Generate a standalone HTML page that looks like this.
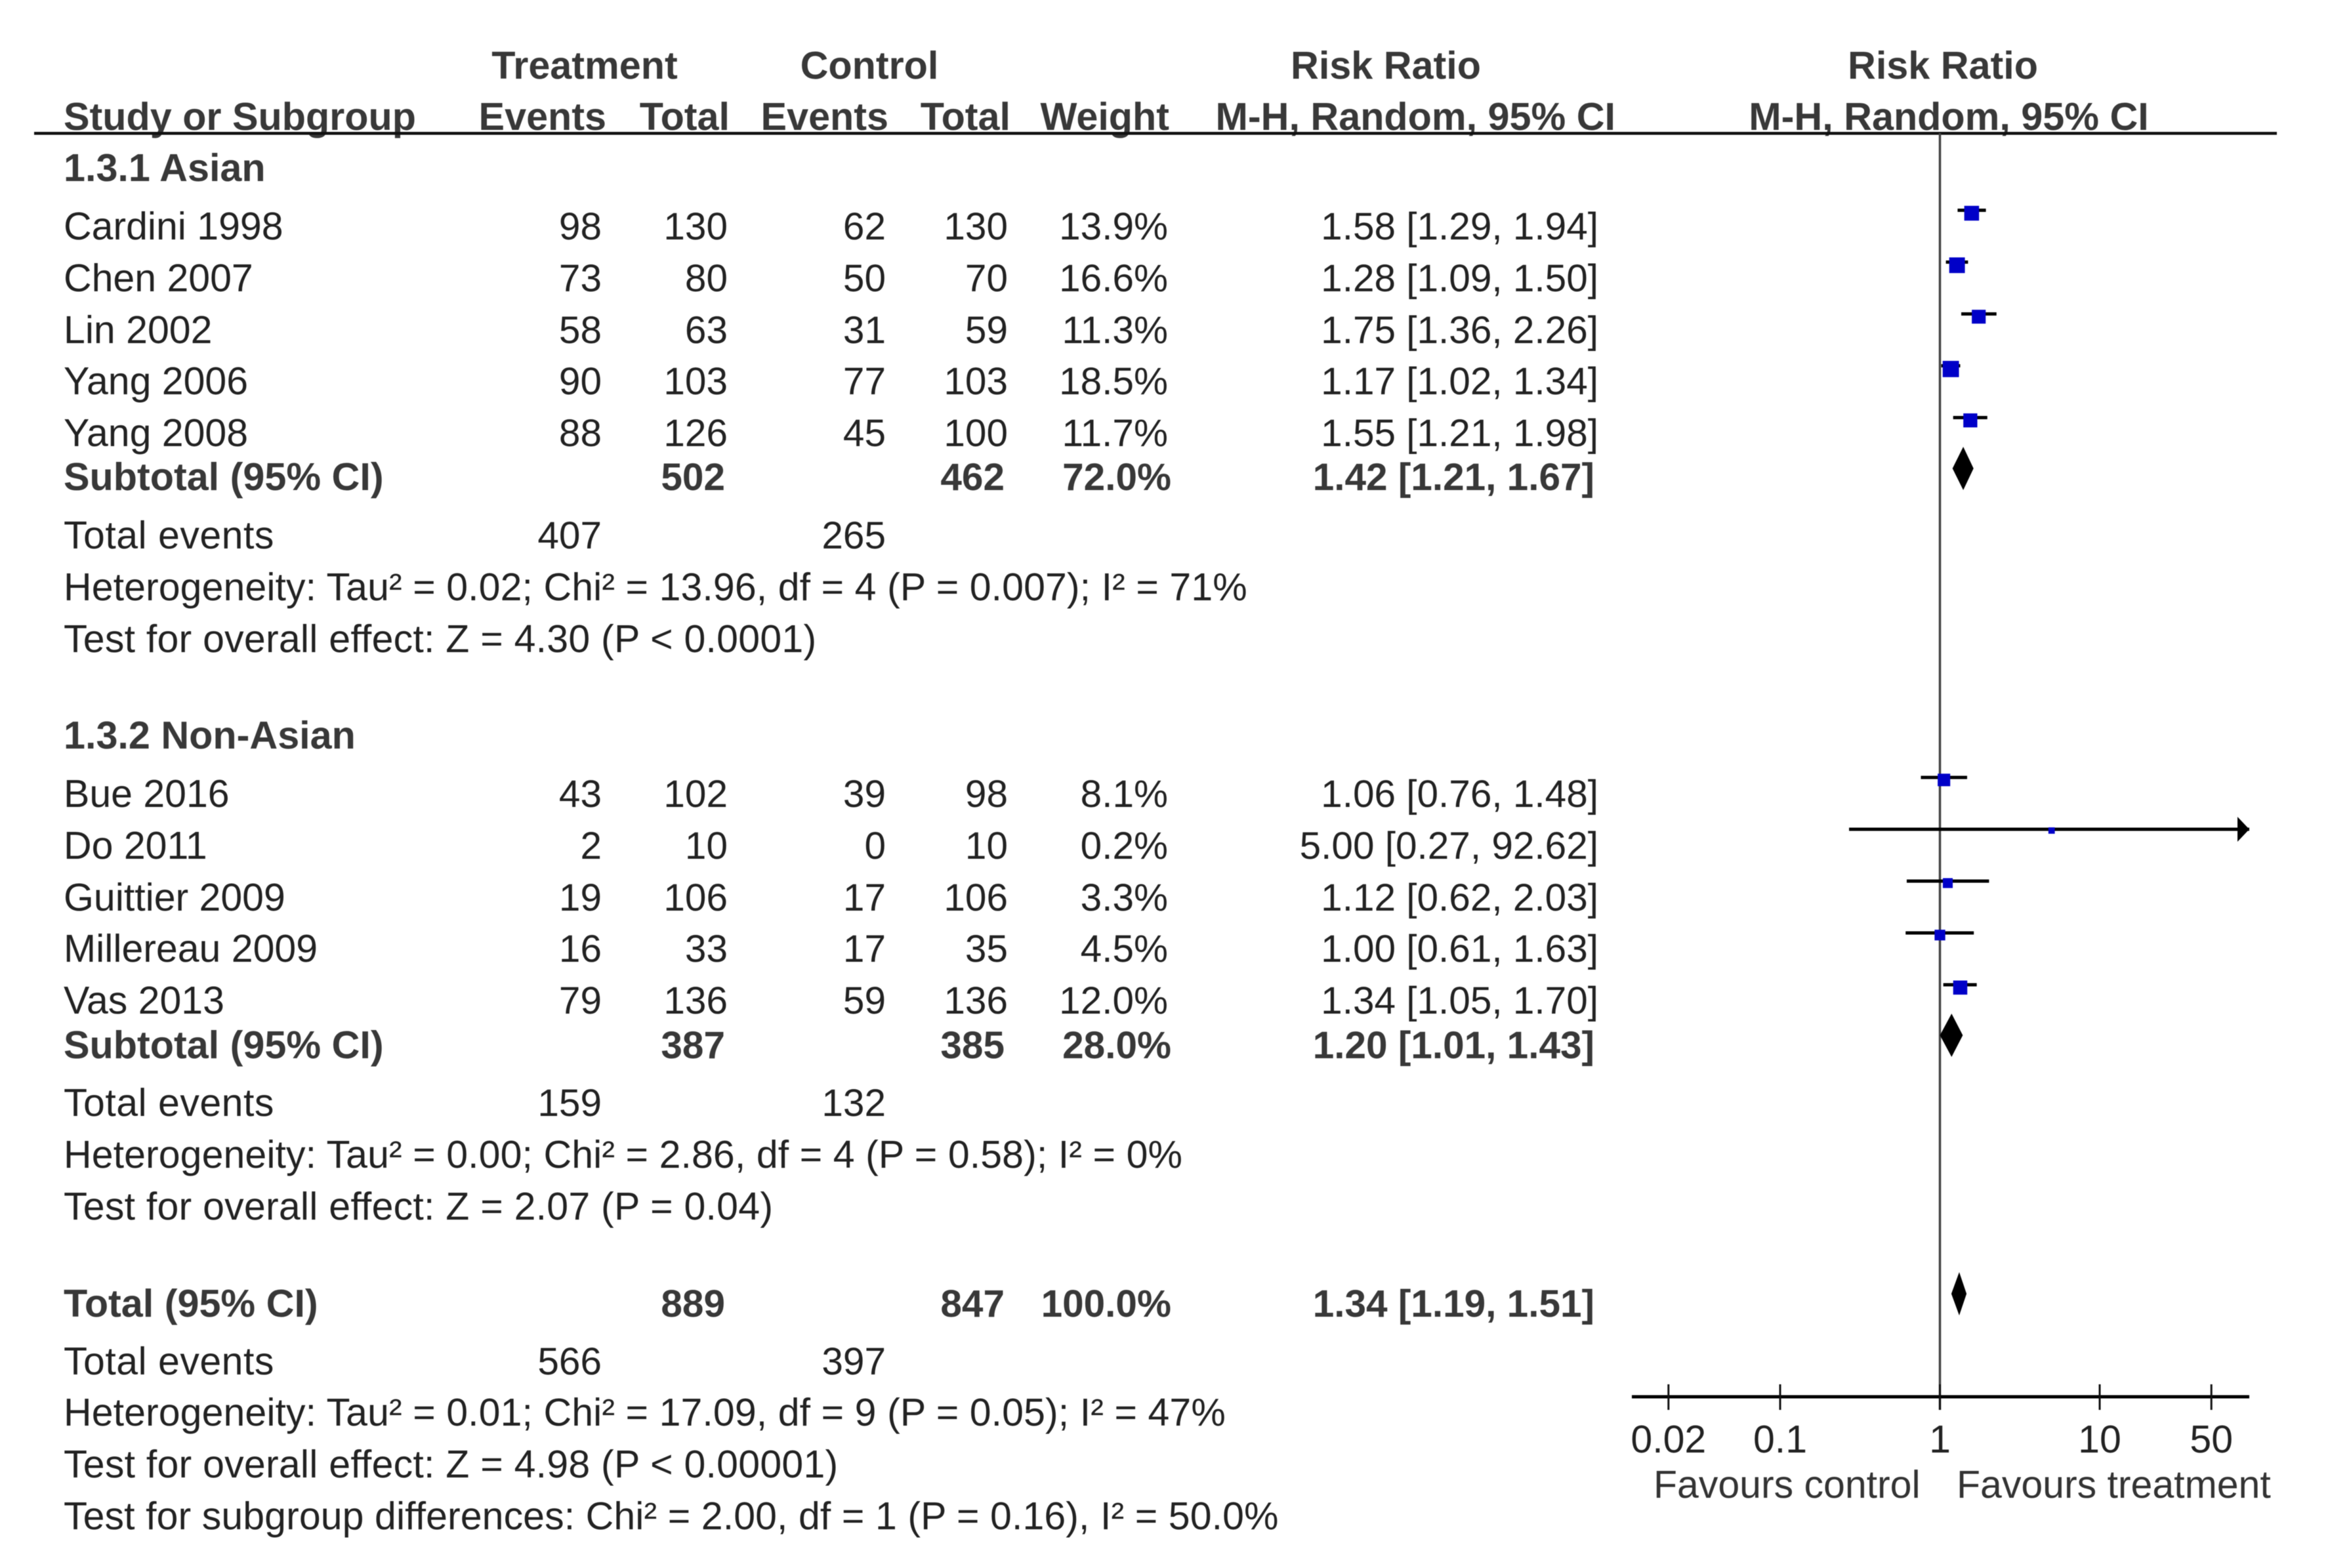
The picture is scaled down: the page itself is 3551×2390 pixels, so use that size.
<!DOCTYPE html>
<html lang="en">
<head>
<meta charset="utf-8">
<title>Forest plot: Risk Ratio by subgroup</title>
<style>
html,body{margin:0;padding:0;background:#fff;}
svg{display:block;filter:blur(0.6px);}
text{font-family:"Liberation Sans",sans-serif;font-size:59px;fill:#222;}
.e{text-anchor:end;font-size:58.5px;}
.m{text-anchor:middle;}
.b{font-weight:bold;fill:#383838;font-size:59.3px;}
.n{font-size:58.5px;}
.te{letter-spacing:0.5px;}
.t1{letter-spacing:0.25px;}
.t2{letter-spacing:0.1px;}
</style>
</head>
<body>
<svg id="forest" xmlns="http://www.w3.org/2000/svg" width="3551" height="2390" viewBox="0 0 3551 2390">
<rect x="0" y="0" width="3551" height="2390" fill="#fff"/>

<g>
<text class="b m" x="891" y="120">Treatment</text>
<text class="b m" x="1325" y="120">Control</text>
<text class="b m" x="2112" y="120">Risk Ratio</text>
<text class="b m" x="2961" y="120">Risk Ratio</text>
<text class="b" x="97" y="198">Study or Subgroup</text>
<text class="b e" x="924" y="198">Events</text>
<text class="b e" x="1112" y="198">Total</text>
<text class="b e" x="1354" y="198">Events</text>
<text class="b e" x="1540" y="198">Total</text>
<text class="b e" x="1782" y="198">Weight</text>
<text class="b e" x="2462" y="198">M-H, Random, 95% CI</text>
<text class="b m" x="2970" y="198">M-H, Random, 95% CI</text>
<rect x="52" y="201" width="3418" height="4.5" fill="#111"/>
</g>

<g>
<text class="b" x="97" y="276">1.3.1 Asian</text>

<text x="97" y="365">Cardini 1998</text>
<text class="e" x="917" y="365">98</text>
<text class="e" x="1109" y="365">130</text>
<text class="e" x="1350" y="365">62</text>
<text class="e" x="1536" y="365">130</text>
<text class="e" x="1780" y="365">13.9%</text>
<text class="e" x="2436" y="365">1.58 [1.29, 1.94]</text>

<text x="97" y="444">Chen 2007</text>
<text class="e" x="917" y="444">73</text>
<text class="e" x="1109" y="444">80</text>
<text class="e" x="1350" y="444">50</text>
<text class="e" x="1536" y="444">70</text>
<text class="e" x="1780" y="444">16.6%</text>
<text class="e" x="2436" y="444">1.28 [1.09, 1.50]</text>

<text x="97" y="523">Lin 2002</text>
<text class="e" x="917" y="523">58</text>
<text class="e" x="1109" y="523">63</text>
<text class="e" x="1350" y="523">31</text>
<text class="e" x="1536" y="523">59</text>
<text class="e" x="1780" y="523">11.3%</text>
<text class="e" x="2436" y="523">1.75 [1.36, 2.26]</text>

<text x="97" y="601">Yang 2006</text>
<text class="e" x="917" y="601">90</text>
<text class="e" x="1109" y="601">103</text>
<text class="e" x="1350" y="601">77</text>
<text class="e" x="1536" y="601">103</text>
<text class="e" x="1780" y="601">18.5%</text>
<text class="e" x="2436" y="601">1.17 [1.02, 1.34]</text>

<text x="97" y="680">Yang 2008</text>
<text class="e" x="917" y="680">88</text>
<text class="e" x="1109" y="680">126</text>
<text class="e" x="1350" y="680">45</text>
<text class="e" x="1536" y="680">100</text>
<text class="e" x="1780" y="680">11.7%</text>
<text class="e" x="2436" y="680">1.55 [1.21, 1.98]</text>

<text class="b" x="97" y="747">Subtotal (95% CI)</text>
<text class="b e n" x="1105" y="747">502</text>
<text class="b e n" x="1531" y="747">462</text>
<text class="b e n" x="1785" y="747">72.0%</text>
<text class="b e n" x="2430" y="747">1.42 [1.21, 1.67]</text>

<text class="te" x="97" y="836">Total events</text>
<text class="e" x="917" y="836">407</text>
<text class="e" x="1350" y="836">265</text>
<text class="t2" x="97" y="915">Heterogeneity: Tau² = 0.02; Chi² = 13.96, df = 4 (P = 0.007); I² = 71%</text>
<text class="t1" x="97" y="994">Test for overall effect: Z = 4.30 (P &lt; 0.0001)</text>
</g>

<g>
<text class="b" x="97" y="1141">1.3.2 Non-Asian</text>

<text x="97" y="1230">Bue 2016</text>
<text class="e" x="917" y="1230">43</text>
<text class="e" x="1109" y="1230">102</text>
<text class="e" x="1350" y="1230">39</text>
<text class="e" x="1536" y="1230">98</text>
<text class="e" x="1780" y="1230">8.1%</text>
<text class="e" x="2436" y="1230">1.06 [0.76, 1.48]</text>

<text x="97" y="1309">Do 2011</text>
<text class="e" x="917" y="1309">2</text>
<text class="e" x="1109" y="1309">10</text>
<text class="e" x="1350" y="1309">0</text>
<text class="e" x="1536" y="1309">10</text>
<text class="e" x="1780" y="1309">0.2%</text>
<text class="e" x="2436" y="1309">5.00 [0.27, 92.62]</text>

<text x="97" y="1388">Guittier 2009</text>
<text class="e" x="917" y="1388">19</text>
<text class="e" x="1109" y="1388">106</text>
<text class="e" x="1350" y="1388">17</text>
<text class="e" x="1536" y="1388">106</text>
<text class="e" x="1780" y="1388">3.3%</text>
<text class="e" x="2436" y="1388">1.12 [0.62, 2.03]</text>

<text x="97" y="1466">Millereau 2009</text>
<text class="e" x="917" y="1466">16</text>
<text class="e" x="1109" y="1466">33</text>
<text class="e" x="1350" y="1466">17</text>
<text class="e" x="1536" y="1466">35</text>
<text class="e" x="1780" y="1466">4.5%</text>
<text class="e" x="2436" y="1466">1.00 [0.61, 1.63]</text>

<text x="97" y="1545">Vas 2013</text>
<text class="e" x="917" y="1545">79</text>
<text class="e" x="1109" y="1545">136</text>
<text class="e" x="1350" y="1545">59</text>
<text class="e" x="1536" y="1545">136</text>
<text class="e" x="1780" y="1545">12.0%</text>
<text class="e" x="2436" y="1545">1.34 [1.05, 1.70]</text>

<text class="b" x="97" y="1613">Subtotal (95% CI)</text>
<text class="b e n" x="1105" y="1613">387</text>
<text class="b e n" x="1531" y="1613">385</text>
<text class="b e n" x="1785" y="1613">28.0%</text>
<text class="b e n" x="2430" y="1613">1.20 [1.01, 1.43]</text>

<text class="te" x="97" y="1701">Total events</text>
<text class="e" x="917" y="1701">159</text>
<text class="e" x="1350" y="1701">132</text>
<text class="t2" x="97" y="1780">Heterogeneity: Tau² = 0.00; Chi² = 2.86, df = 4 (P = 0.58); I² = 0%</text>
<text class="t1" x="97" y="1859">Test for overall effect: Z = 2.07 (P = 0.04)</text>
</g>

<g>
<text class="b" x="97" y="2007">Total (95% CI)</text>
<text class="b e n" x="1105" y="2007">889</text>
<text class="b e n" x="1531" y="2007">847</text>
<text class="b e n" x="1785" y="2007">100.0%</text>
<text class="b e n" x="2430" y="2007">1.34 [1.19, 1.51]</text>
<text class="te" x="97" y="2095">Total events</text>
<text class="e" x="917" y="2095">566</text>
<text class="e" x="1350" y="2095">397</text>
<text class="t2" x="97" y="2173">Heterogeneity: Tau² = 0.01; Chi² = 17.09, df = 9 (P = 0.05); I² = 47%</text>
<text class="t1" x="97" y="2252">Test for overall effect: Z = 4.98 (P &lt; 0.00001)</text>
<text class="t2" x="97" y="2331">Test for subgroup differences: Chi² = 2.00, df = 1 (P = 0.16), I² = 50.0%</text>
</g>

<g id="plot"></g>
<text x="2520" y="2283" style="fill:#333">Favours control</text>
<text x="2982" y="2283" style="fill:#333">Favours treatment</text>
</svg>

<script>
// Chart data
const studyNames = ['cardini-1998','chen-2007','lin-2002','yang-2006','yang-2008','bue-2016','do-2011','guittier-2009','millereau-2009','vas-2013'];
const riskRatios = [1.58,1.28,1.75,1.17,1.55,1.06,5.00,1.12,1.00,1.34];
const ciLower = [1.29,1.09,1.36,1.02,1.21,0.76,0.27,0.62,0.61,1.05];
const ciUpper = [1.94,1.50,2.26,1.34,1.98,1.48,92.62,2.03,1.63,1.70];
const weights = [13.9,16.6,11.3,18.5,11.7,8.1,0.2,3.3,4.5,12.0];
const summaryNames = ['asian-subtotal','non-asian-subtotal','overall-total'];
const summaryRatios = [1.42,1.20,1.34];
const summaryLower = [1.21,1.01,1.19];
const summaryUpper = [1.67,1.43,1.51];
const tickValues = [0.02,0.1,1,10,50];
const tickLabels = ['0.02','0.1','1','10','50'];

// Axis functions
const X_AT_ONE = 2956.5, PX_PER_DECADE = 243.5, AXIS_LEFT = 2487, AXIS_RIGHT = 3428, AXIS_Y = 2129;
function xScale(v){ return X_AT_ONE + PX_PER_DECADE * Math.log10(v); }
function studyLineY(i){ return i < 5 ? 320.5 + 79 * i : 1185 + 79 * (i - 5); }
function summaryY(i){ return i === 0 ? studyLineY(4) + 77.5 : i === 1 ? studyLineY(9) + 77 : 1972; }
function squareSize(w){ return 8 + 3.9 * Math.sqrt(w); }

const NS = 'http://www.w3.org/2000/svg';
const plot = document.getElementById('plot');
function mk(tag, props){
  const el = document.createElementNS(NS, tag);
  for (const k in props) el.setAttribute(k, props[k]);
  plot.appendChild(el);
  return el;
}

// Null-effect reference line
const refLine = mk('line', {x1:X_AT_ONE, x2:X_AT_ONE, y1:203, y2:AXIS_Y + 20, stroke:'#444', 'stroke-width':3.5});



// Study confidence intervals and squares
studyNames.forEach(function(name, i){
  const y = studyLineY(i);
  const x1 = Math.max(xScale(ciLower[i]), AXIS_LEFT);
  const x2 = Math.min(xScale(ciUpper[i]), AXIS_RIGHT);
  const ci = mk('line', {x1:x1, x2:x2, y1:y, y2:y, stroke:'#000', 'stroke-width':5});
  
  
  if (xScale(ciUpper[i]) > AXIS_RIGHT) {
    const arrow = mk('polygon', {points:(AXIS_RIGHT-18)+','+(y-19)+' '+AXIS_RIGHT+','+y+' '+(AXIS_RIGHT-18)+','+(y+19), fill:'#000'});
    
    
  }
  const s = squareSize(weights[i]);
  const sq = mk('rect', {x:xScale(riskRatios[i]) - s/2, y:y - 0.3*s, width:s, height:s, fill:'#0000c8'});
  
  
});

// Pooled-effect diamonds
summaryNames.forEach(function(name, i){
  const y = summaryY(i), h = 33;
  const left = xScale(summaryLower[i]) - 1, right = xScale(summaryUpper[i]) - 3, mid = xScale(summaryRatios[i]) - 1.5;
  const d = mk('polygon', {points:left+','+y+' '+mid+','+(y-h)+' '+right+','+y+' '+mid+','+(y+h), fill:'#000'});
  
  
});

// X axis
const axisLine = mk('line', {x1:AXIS_LEFT, x2:AXIS_RIGHT, y1:AXIS_Y, y2:AXIS_Y, stroke:'#000', 'stroke-width':5});


tickValues.forEach(function(v, i){
  const x = xScale(v);
  const tick = mk('line', {x1:x, x2:x, y1:AXIS_Y - 19, y2:AXIS_Y + 20, stroke:'#111', 'stroke-width':3});
  
  
  const label = mk('text', {x:x, y:2214, 'text-anchor':'middle'});
  label.textContent = tickLabels[i];
  
  
});
</script>
</body>
</html>
